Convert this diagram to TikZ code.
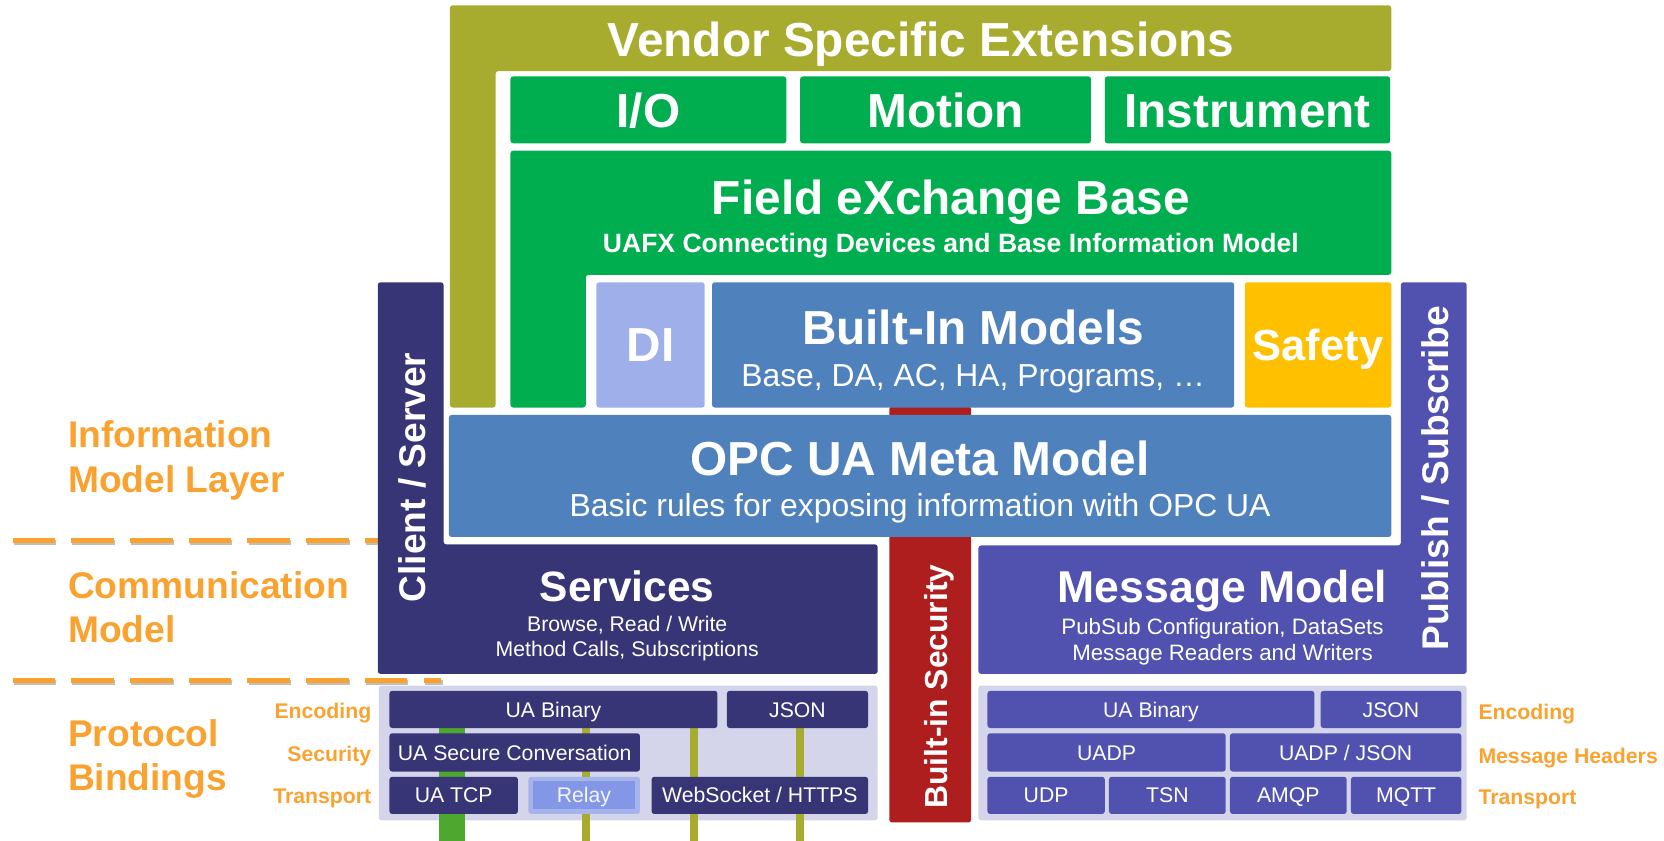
\documentclass[tikz,border=0pt]{standalone}
\usepackage{fontspec}
\setmainfont{Liberation Sans}
\definecolor{olive}{RGB}{168,172,46}
\definecolor{fxgreen}{RGB}{0,174,80}
\definecolor{dilav}{RGB}{158,175,234}
\definecolor{bmblue}{RGB}{79,129,189}
\definecolor{safety}{RGB}{255,192,0}
\definecolor{secred}{RGB}{175,30,30}
\definecolor{navy}{RGB}{56,53,118}
\definecolor{pubsub}{RGB}{81,82,176}
\definecolor{panel}{RGB}{212,212,235}
\definecolor{lblorange}{RGB}{250,162,47}
\definecolor{bindgreen}{RGB}{78,167,46}
\definecolor{relayout}{RGB}{166,180,236}
\definecolor{relayin}{RGB}{132,151,230}
\newcommand\fsz[1]{\fontsize{#1}{#1}\selectfont}
\newcommand\bx[7]{\pgfmathsetmacro\bxw{#4-#2}\pgfmathsetmacro\bxh{#5-#3}%
  \node[blk,#6,minimum width=\bxw pt,minimum height=\bxh pt] (#1) at (#2,#3) {#7};}
\tikzset{
  blk/.style={rounded corners=2.5pt, inner sep=0pt, outer sep=0pt, anchor=north west, text=white, draw=none},
  bind/.style={font=\fsz{20}, text height=14.3pt, text depth=0pt},
  ttl/.style={text=white, font=\fsz{45}\bfseries, anchor=base, inner sep=0pt},
  subt/.style={text=white, font=\fsz{30}, anchor=base, inner sep=0pt},
  lbl/.style={text=lblorange, font=\fsz{35}\bfseries, anchor=base west, inner sep=0pt},
  sml/.style={text=lblorange, font=\fsz{20}\bfseries, inner sep=0pt},
  vtxt/.style={text=white, font=\fsz{35}\bfseries, anchor=base, rotate=90, inner sep=0pt},
  dashline/.style={lblorange, line width=5pt, dash pattern=on 40pt off 15.3pt},
  dashshadow/.style={black, opacity=0.25, line width=5pt, dash pattern=on 40pt off 15.3pt},
  shape L/.style={rounded corners=2.5pt}
}
\begin{document}
\begin{tikzpicture}[x=1pt,y=-1pt]
\useasboundingbox (0,0) rectangle (1568,792);

% layer separators
\coordinate (d1a) at (12,509); \coordinate (d1b) at (356,509);
\coordinate (d2a) at (12,641); \coordinate (d2b) at (416,641);
\draw[dashshadow] ([shift={(1,2)}]d1a) -- ([shift={(1,2)}]d1b);
\draw[dashshadow] ([shift={(1,2)}]d2a) -- ([shift={(1,2)}]d2b);
\draw[dashline] (d1a) -- (d1b);
\draw[dashline] (d2a) -- (d2b);

% vendor L-shape
\fill[olive, shape L] (424,5) -- (1311,5) -- (1311,67) -- (467,67) -- (467,384) -- (424,384) -- cycle;
% FX L-shape
\fill[fxgreen, shape L] (481,142) -- (1311,142) -- (1311,259) -- (552,259) -- (552,384) -- (481,384) -- cycle;
\bx{io}{481}{72}{741}{135}{fill=fxgreen}{}
\bx{motion}{754}{72}{1028}{135}{fill=fxgreen}{}
\bx{instr}{1041}{72}{1310}{135}{fill=fxgreen}{}

% built-in security bar
\bx{sec}{838}{383}{915}{775}{fill=secred}{}

\bx{di}{562}{266}{664}{384}{fill=dilav}{}
\bx{bim}{671}{266}{1163}{384}{fill=bmblue}{}
\bx{safe}{1173}{266}{1311}{384}{fill=safety}{}
\bx{meta}{423}{391}{1311}{506}{fill=bmblue}{}

% client/server + services
\fill[navy, shape L] (356,266) -- (418,266) -- (418,513) -- (827,513) -- (827,635) -- (356,635) -- cycle;
% publish/subscribe + message model
\fill[pubsub, shape L] (1320,266) -- (1382,266) -- (1382,635) -- (922,635) -- (922,514) -- (1320,514) -- cycle;

% binding panels
\bx{lpanel}{357}{646}{827}{773}{fill=panel}{}
\bx{rpanel}{922}{646}{1382}{773}{fill=panel}{}
\fill[bindgreen] (414,660) rectangle (438,792);
\fill[olive] (548.5,660) rectangle (556,792);
\fill[olive] (650.5,660) rectangle (658,792);
\fill[olive] (750.5,660) rectangle (757.5,792);

\bx{lbin}{367}{651}{676}{686}{fill=navy,bind}{UA Binary}
\bx{ljson}{685}{651}{818}{686}{fill=navy,bind}{JSON}
\bx{lsecconv}{367}{691}{603}{727}{fill=navy,bind}{UA Secure Conversation}
\bx{ltcp}{367}{732}{488}{767}{fill=navy,bind}{UA TCP}
\bx{relay}{498}{732}{603}{767}{fill=relayout}{}
\bx{relayin}{502}{736}{598.5}{762}{fill=relayin,rounded corners=0pt,bind,text=white!90!relayin}{Relay}
\bx{lws}{614}{732}{818}{767}{fill=navy,bind}{WebSocket / HTTPS}

\bx{rbin}{930.5}{651}{1238.5}{686}{fill=pubsub,bind}{UA Binary}
\bx{rjson}{1244.5}{651}{1377}{686}{fill=pubsub,bind}{JSON}
\bx{uadp}{930.5}{691}{1155}{727}{fill=pubsub,bind}{UADP}
\bx{uadpjson}{1159}{691}{1377}{727}{fill=pubsub,bind}{UADP / JSON}
\bx{udp}{930.5}{732}{1041}{767}{fill=pubsub,bind}{UDP}
\bx{tsn}{1045}{732}{1155}{767}{fill=pubsub,bind}{TSN}
\bx{amqp}{1159}{732}{1269}{767}{fill=pubsub,bind}{AMQP}
\bx{mqtt}{1273}{732}{1377}{767}{fill=pubsub,bind}{MQTT}

% texts
\node[ttl] (vendortxt) at (868,53) {Vendor Specific Extensions};
\node[ttl] (iotxt) at (611,120) {I/O};
\node[ttl] (motiontxt) at (891,120) {Motion};
\node[ttl] (instrtxt) at (1175.5,120) {Instrument};
\node[ttl] (fxtxt) at (896,202) {Field eXchange Base};
\node[subt, font=\fsz{25}\bfseries] (fxsub) at (896,238) {UAFX Connecting Devices and Base Information Model};
\node[ttl] (ditxt) at (613,341) {DI};
\node[ttl] (bimtxt) at (917,325) {Built-In Models};
\node[subt] (bimsub) at (917,364) {Base, DA, AC, HA, Programs, …};
\node[ttl, font=\fsz{41}\bfseries] (safetxt) at (1242,340) {Safety};
\node[ttl] (metatxt) at (867,448) {OPC UA Meta Model};
\node[subt] (metasub) at (867,487) {Basic rules for exposing information with OPC UA};
\node[ttl, font=\fsz{40}\bfseries] (servtxt) at (591,567) {Services};
\node[subt, font=\fsz{20}] (serv1) at (591,595) {Browse, Read / Write};
\node[subt, font=\fsz{20}] (serv2) at (591,619) {Method Calls, Subscriptions};
\node[ttl, font=\fsz{42}\bfseries] (mmtxt) at (1152,568) {Message Model};
\node[subt, font=\fsz{21}] (mm1) at (1152,598) {PubSub Configuration, DataSets};
\node[subt, font=\fsz{21}] (mm2) at (1152,622) {Message Readers and Writers};

\node[vtxt] (cstxt) at (401,450) {Client / Server};
\node[vtxt] (pstxt) at (1364.5,450.5) {Publish / Subscribe};
\node[vtxt, font=\fsz{30}\bfseries] (bstxt) at (893,647) {Built-in Security};

\node[lbl] (il1) at (64,422) {Information};
\node[lbl] (il2) at (64,464) {Model Layer};
\node[lbl] (cm1) at (64,564) {Communication};
\node[lbl] (cm2) at (64,605.5) {Model};
\node[lbl] (pb1) at (64,703) {Protocol};
\node[lbl] (pb2) at (64,744.5) {Bindings};

\node[sml, anchor=base east] (lenc) at (350,677) {Encoding};
\node[sml, anchor=base east] (lsecl) at (350,718) {Security};
\node[sml, anchor=base east] (ltra) at (350,757) {Transport};
\node[sml, anchor=base west] (renc) at (1393,678) {Encoding};
\node[sml, anchor=base west] (rmh) at (1393,719.5) {Message Headers};
\node[sml, anchor=base west] (rtra) at (1393,758.5) {Transport};
\end{tikzpicture}
\end{document}
